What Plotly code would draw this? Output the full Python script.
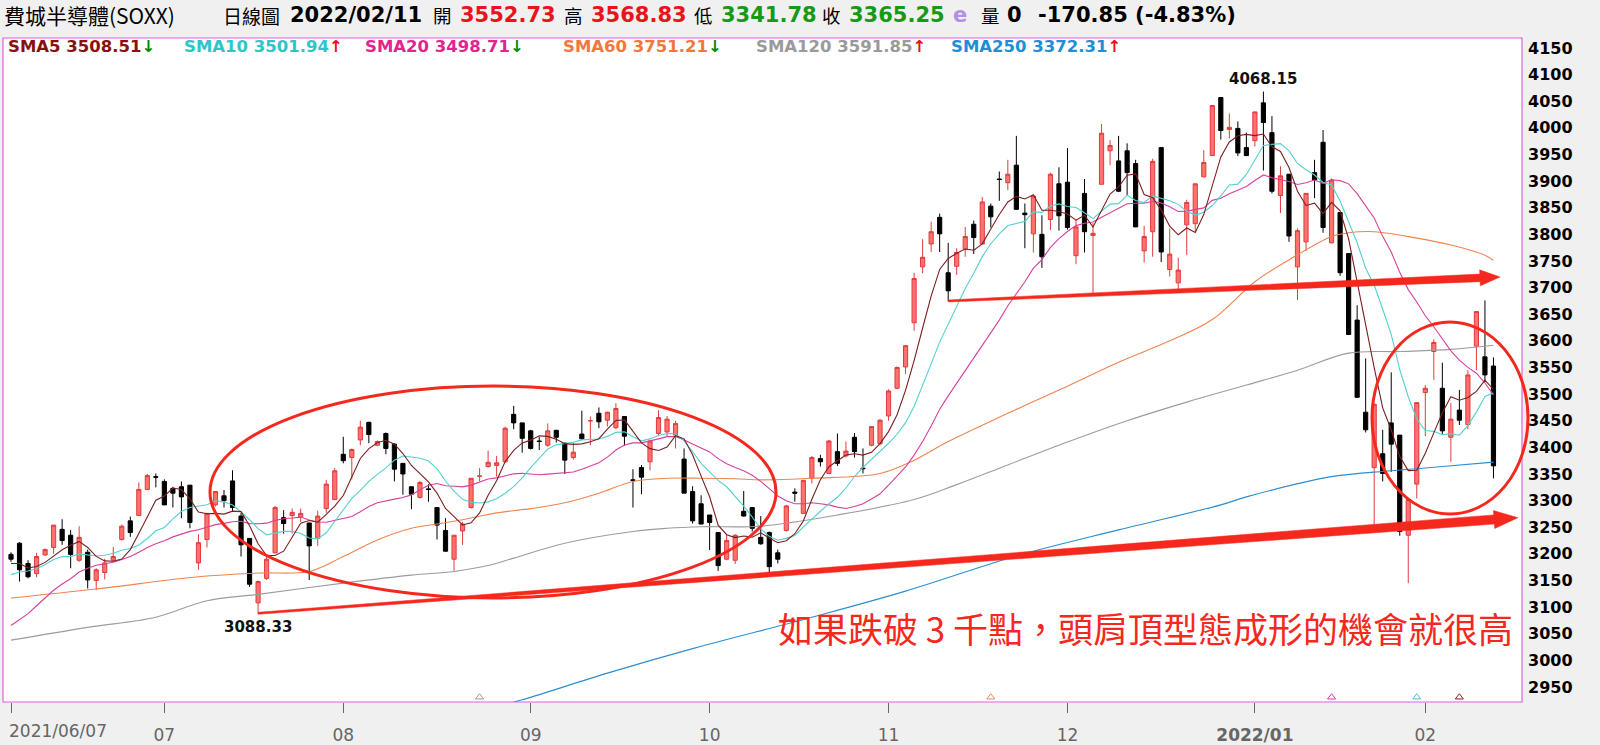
import numpy as np
import pandas as pd
import plotly.graph_objects as go

# ---------------- data ----------------
holidays = ["2021-07-05", "2021-09-06", "2021-11-25", "2021-12-24", "2022-01-17"]
dates = [d for d in pd.bdate_range("2021-06-07", "2022-02-11") if d.strftime("%Y-%m-%d") not in holidays]

opens = [3199, 3220, 3182, 3163, 3198, 3212, 3246, 3235, 3188, 3203, 3150, 3165, 3188, 3227, 3262, 3272, 3321, 3345, 3336, 3323,
         3326, 3329, 3183, 3227, 3292, 3309, 3337, 3271, 3229, 3108, 3154, 3202, 3268, 3272, 3269, 3258, 3229, 3285, 3302, 3387,
         3381, 3414, 3447, 3404, 3426, 3406, 3370, 3326, 3306, 3322, 3287, 3244, 3190, 3243, 3287, 3346, 3364, 3366, 3373, 3462,
         3446, 3431, 3412, 3404, 3432, 3408, 3381, 3425, 3450, 3464, 3451, 3437, 3458, 3339, 3362, 3373, 3426, 3429, 3423, 3378,
         3317, 3294, 3273, 3240, 3190, 3188, 3280, 3287, 3231, 3240, 3202, 3244, 3316, 3276, 3342, 3379, 3351, 3392, 3384, 3419,
         3361, 3404, 3407, 3459, 3511, 3551, 3634, 3739, 3782, 3832, 3728, 3740, 3772, 3819, 3782, 3853, 3904, 3897, 3930, 3840,
         3801, 3800, 3828, 3895, 3898, 3760, 3877, 3798, 3894, 3957, 3938, 3957, 3933, 3769, 3805, 3963, 3734, 3709, 3818, 3820,
         3908, 3948, 4057, 3997, 3999, 3963, 3976, 4047, 3991, 3873, 3913, 3739, 3786, 3916, 3973, 3784, 3841, 3764, 3639, 3466,
         3362, 3388, 3446, 3423, 3235, 3331, 3503, 3580, 3511, 3419, 3470, 3443, 3590, 3570, 3552.73]
highs = [3203, 3222, 3188, 3202, 3210, 3254, 3265, 3245, 3252, 3208, 3173, 3191, 3213, 3255, 3270, 3334, 3350, 3351, 3340, 3326,
         3336, 3329, 3237, 3277, 3317, 3320, 3357, 3277, 3229, 3150, 3195, 3290, 3282, 3285, 3285, 3258, 3281, 3339, 3361, 3420,
         3398, 3450, 3448, 3413, 3428, 3408, 3370, 3326, 3337, 3331, 3287, 3267, 3235, 3260, 3342, 3361, 3394, 3384, 3439, 3478,
         3446, 3433, 3420, 3445, 3433, 3408, 3409, 3469, 3458, 3475, 3467, 3483, 3458, 3359, 3367, 3412, 3470, 3459, 3450, 3398,
         3327, 3310, 3273, 3240, 3237, 3237, 3318, 3287, 3271, 3242, 3208, 3292, 3323, 3338, 3384, 3386, 3414, 3426, 3411, 3427,
         3398, 3440, 3453, 3509, 3552, 3592, 3728, 3791, 3824, 3839, 3784, 3774, 3814, 3826, 3870, 3858, 3918, 3940, 3985, 3858,
         3874, 3836, 3916, 3926, 3962, 3828, 3904, 3821, 4007, 3977, 3985, 3971, 3940, 3816, 3942, 3963, 3811, 3756, 3865, 3895,
         3958, 4042, 4057, 4027, 4012, 3991, 4030, 4068.15, 4022, 3928, 3913, 3811, 3877, 3940, 3996, 3905, 3841, 3764, 3667, 3567,
         3481, 3433, 3541, 3423, 3302, 3484, 3517, 3603, 3559, 3483, 3508, 3545, 3655, 3676, 3568.83]
lows = [3185, 3148, 3154, 3156, 3196, 3200, 3217, 3173, 3185, 3135, 3132, 3152, 3185, 3225, 3232, 3272, 3320, 3325, 3292, 3287,
        3267, 3248, 3170, 3212, 3289, 3287, 3279, 3195, 3138, 3088.33, 3151, 3201, 3238, 3238, 3260, 3151, 3215, 3277, 3301, 3370,
        3340, 3404, 3408, 3402, 3387, 3336, 3311, 3284, 3304, 3298, 3227, 3204, 3168, 3217, 3285, 3336, 3362, 3345, 3371, 3434,
        3390, 3396, 3395, 3401, 3409, 3350, 3377, 3414, 3404, 3436, 3439, 3434, 3403, 3287, 3312, 3357, 3421, 3421, 3398, 3314,
        3257, 3256, 3207, 3168, 3188, 3181, 3270, 3242, 3217, 3160, 3182, 3242, 3298, 3275, 3332, 3364, 3350, 3365, 3381, 3381,
        3351, 3402, 3404, 3450, 3509, 3538, 3619, 3727, 3767, 3767, 3675, 3724, 3758, 3763, 3782, 3813, 3863, 3883, 3846, 3774,
        3766, 3737, 3808, 3807, 3809, 3744, 3766, 3690, 3894, 3930, 3880, 3874, 3814, 3747, 3758, 3748, 3721, 3690, 3761, 3805,
        3907, 3947, 3978, 3980, 3947, 3947, 3965, 3920, 3877, 3840, 3786, 3677, 3769, 3868, 3803, 3784, 3722, 3612, 3494, 3428,
        3254, 3336, 3354, 3234, 3145, 3304, 3421, 3527, 3425, 3373, 3442, 3434, 3545, 3523, 3341.78]
closes = [3190, 3170, 3157, 3195, 3208, 3254, 3225, 3199, 3231, 3151, 3170, 3183, 3195, 3252, 3240, 3321, 3347, 3344, 3292, 3314,
          3307, 3259, 3221, 3276, 3317, 3300, 3287, 3217, 3143, 3148, 3190, 3287, 3257, 3278, 3276, 3215, 3271, 3331, 3356, 3375,
          3396, 3438, 3424, 3411, 3398, 3359, 3350, 3312, 3334, 3321, 3254, 3205, 3235, 3256, 3342, 3346, 3372, 3371, 3436, 3446,
          3417, 3398, 3411, 3431, 3419, 3376, 3391, 3416, 3450, 3448, 3466, 3473, 3421, 3338, 3344, 3412, 3456, 3453, 3445, 3314,
          3262, 3256, 3259, 3178, 3225, 3235, 3271, 3248, 3219, 3176, 3190, 3290, 3314, 3338, 3381, 3373, 3412, 3370, 3393, 3392,
          3360, 3439, 3451, 3506, 3550, 3591, 3717, 3757, 3805, 3801, 3694, 3766, 3796, 3794, 3861, 3833, 3903, 3913, 3847, 3837,
          3872, 3758, 3913, 3835, 3813, 3814, 3805, 3802, 3990, 3967, 3881, 3916, 3814, 3796, 3937, 3767, 3763, 3733, 3860, 3895,
          3935, 4042, 3995, 4001, 3953, 3948, 4030, 4010, 3881, 3910, 3797, 3807, 3877, 3902, 3813, 3902, 3728, 3612, 3494, 3433,
          3481, 3351, 3406, 3242, 3302, 3484, 3511, 3597, 3431, 3453, 3451, 3536, 3655, 3536.10, 3365.25]
# closes before 2021/06/07 (estimated, only feed the short moving averages)
pre_closes = [2930, 2950, 2900, 2920, 2960, 2990, 3000, 2980, 3010, 3060, 3120, 3140, 3150, 3130, 3160, 3170, 3200, 3180, 3170]

# long moving averages (trading-day index: value)
sma60_idx = [0, 10, 22, 29, 35, 39, 43, 47, 50, 53, 57, 61, 65, 69, 73, 77, 81, 85, 88, 94, 102, 106, 110, 117, 124, 130, 136,
             141, 146, 150, 155, 157, 160, 165, 169, 173, 174]
sma60_val = [3117, 3134, 3157, 3164, 3167, 3195, 3226, 3248, 3256, 3264, 3277, 3285, 3296, 3314, 3336, 3342, 3342, 3341, 3339,
             3342, 3351, 3376, 3411, 3464, 3515, 3560, 3600, 3640, 3711, 3752, 3796, 3803, 3805, 3793, 3780, 3761, 3751.21]
sma120_idx = [0, 9, 17, 23, 29, 39, 47, 52, 56, 59, 65, 73, 77, 81, 88, 97, 106, 111, 117, 124, 131, 138, 145, 151, 157, 163,
              169, 174]
sma120_val = [3038, 3062, 3081, 3112, 3124, 3145, 3160, 3167, 3178, 3192, 3220, 3242, 3248, 3251, 3252, 3273, 3302, 3330, 3367,
              3410, 3450, 3485, 3517, 3545, 3577, 3580, 3584, 3591.85]
sma250_idx = [55, 60, 70, 80, 94, 105, 118, 130, 142, 145, 155, 162, 168, 174]
sma250_val = [2905, 2926, 2976, 3022, 3081, 3130, 3196, 3245, 3292, 3307, 3345, 3356, 3364, 3372.31]

# legend as printed on the chart
legend_names = ["SMA5", "SMA10", "SMA20", "SMA60", "SMA120", "SMA250"]
legend_values = [3508.51, 3501.94, 3498.71, 3751.21, 3591.85, 3372.31]
legend_up = [False, True, False, False, True, True]

# small signal marks along the bottom edge
signal_idx = [55, 115, 155, 165, 170]
signal_col = ["#9a9a9a", "#f08a5a", "#d63fa0", "#40c8d0", "#8b2020"]

# ---------------- geometry ----------------
W, H = 1600, 745
PL, PR, PT, PB = 3, 1522, 38, 702
XR = [-0.94, 177.35]
YR = [2921.8, 4168.8]


def px(x):
    return (x - PL) / (PR - PL)


def py(y):
    return (PB - y) / (PB - PT)


def xpix(i):
    return PL + (i - XR[0]) / (XR[1] - XR[0]) * (PR - PL)


def ypix(p):
    return PB - (p - YR[0]) / (YR[1] - YR[0]) * (PB - PT)


n = len(closes)
idx = list(range(n))

s_all = pd.Series(pre_closes + closes, dtype=float)
k = len(pre_closes)
sma5 = s_all.rolling(5).mean().iloc[k:].tolist()
sma10 = s_all.rolling(10).mean().iloc[k:].tolist()
sma20 = s_all.rolling(20).mean().iloc[k:].tolist()

fig = go.Figure()
fig.add_trace(go.Candlestick(
    x=idx, open=opens, high=highs, low=lows, close=closes,
    increasing=dict(line=dict(color="#e23b3b", width=1), fillcolor="#ff7070"),
    decreasing=dict(line=dict(color="#000000", width=1), fillcolor="#000000"),
    whiskerwidth=0, showlegend=False, hoverinfo="skip"))

line_specs = [
    (sma250_idx, sma250_val, "#2a8fd0", "spline"),
    (sma120_idx, sma120_val, "#9c9c9c", "spline"),
    (sma60_idx, sma60_val, "#ef8450", "spline"),
    (idx, sma20, "#d8409e", "linear"),
    (idx, sma10, "#55d0d0", "linear"),
    (idx, sma5, "#7a1f1f", "linear"),
]
for xs, ys, col, shp in line_specs:
    fig.add_trace(go.Scatter(x=xs, y=ys, mode="lines", line=dict(color=col, width=1.1, shape=shp),
                             showlegend=False, hoverinfo="skip"))

fig.add_trace(go.Scatter(x=signal_idx, y=[YR[0] + 9] * len(signal_idx), mode="markers",
                         marker=dict(symbol="triangle-up-open", size=7, color=signal_col, line=dict(width=1, color=signal_col)),
                         showlegend=False, hoverinfo="skip", cliponaxis=False))

# ticks at first trading day of each month
tick_idx, tick_txt = [], []
prev = None
for i, d in enumerate(dates):
    if d.month != prev:
        tick_idx.append(i)
        if i == 0:
            tick_txt.append("")
        elif d.month == 1:
            tick_txt.append("<b>%d/%02d</b>" % (d.year, d.month))
        else:
            tick_txt.append("%02d" % d.month)
        prev = d.month

yticks = list(range(2950, 4151, 50))

fig.update_layout(
    width=W, height=H,
    margin=dict(l=PL, r=W - PR, t=PT, b=H - PB, autoexpand=False),
    paper_bgcolor="#f0f0f0", plot_bgcolor="#ffffff",
    showlegend=False,
    xaxis=dict(range=XR, tickvals=tick_idx, ticktext=tick_txt, showgrid=False, zeroline=False,
               ticks="outside", ticklen=10, tickcolor="#666666", tickwidth=1,
               tickfont=dict(family="DejaVu Sans", size=17, color="#666666"),
               rangeslider=dict(visible=False), showline=False, ticklabelstandoff=8),
    yaxis=dict(range=YR, side="right", tickvals=yticks, ticktext=[str(v) for v in yticks],
               showgrid=False, zeroline=False, ticks="", showline=False,
               tickfont=dict(family="DejaVu Sans", size=16, color="#000000", weight="bold"),
               ticklabelstandoff=5),
)

shapes = []
# plot border
shapes.append(dict(type="rect", xref="paper", yref="paper", x0=0, x1=1, y0=0, y1=1,
                   line=dict(color="#e060e0", width=1.2), layer="above"))
RED = "#f5281e"
# ellipses
shapes.append(dict(type="circle", xref="paper", yref="paper", x0=px(210), x1=px(776), y0=py(598), y1=py(386),
                   line=dict(color=RED, width=3), layer="above"))
shapes.append(dict(type="circle", xref="paper", yref="paper", x0=px(1372), x1=px(1528), y0=py(514), y1=py(322),
                   line=dict(color=RED, width=3), layer="above"))


def arrow_path(x0, y0, x1, y1, w0, w1, head_len, head_w):
    dx, dy = x1 - x0, y1 - y0
    L = (dx * dx + dy * dy) ** 0.5
    ux, uy = dx / L, dy / L
    nx, ny = -uy, ux
    sx, sy = x1 - ux * head_len, y1 - uy * head_len
    pts = [(x0 + nx * w0, y0 + ny * w0), (sx + nx * w1, sy + ny * w1), (sx + nx * head_w, sy + ny * head_w),
           (x1, y1), (sx - nx * head_w, sy - ny * head_w), (sx - nx * w1, sy - ny * w1), (x0 - nx * w0, y0 - ny * w0)]
    return "M " + " L ".join("%.5f,%.5f" % (px(a), py(b)) for a, b in pts) + " Z"


# neckline arrow (from the low of the candle at index 110)
shapes.append(dict(type="path", xref="paper", yref="paper", layer="above",
                   path=arrow_path(xpix(110), ypix(lows[110]), 1500, ypix(3720), 1.0, 3.8, 20, 8),
                   fillcolor=RED, line=dict(color=RED, width=0.5)))
# lower support arrow (from the 3088.33 low)
shapes.append(dict(type="path", xref="paper", yref="paper", layer="above",
                   path=arrow_path(xpix(29), ypix(lows[29]), 1518, ypix(3268), 1.0, 4.6, 24, 9),
                   fillcolor=RED, line=dict(color=RED, width=0.5)))
fig.update_layout(shapes=shapes)

ann = []


def txt(x, y, text, size, color="#000000", family="DejaVu Sans", bold=False, xanchor="left"):
    ann.append(dict(xref="paper", yref="paper", x=px(x), y=py(y), text=text, showarrow=False,
                    xanchor=xanchor, yanchor="middle", borderpad=0,
                    font=dict(family=family, size=size, color=color, weight="bold" if bold else "normal")))


# header
CJK = "Noto Sans CJK TC"
HY = 15
NS = 21
txt(3, HY, "費城半導體(SOXX)", 21, family=CJK)
txt(222, HY, "日線圖", 19, family=CJK)
txt(289, HY, dates[-1].strftime("%Y/%m/%d"), NS, bold=True)
txt(432, HY, "開", 18.5, family=CJK)
txt(459, HY, "%.2f" % opens[-1], NS, color="#e8141a", bold=True)
txt(563, HY, "高", 18.5, family=CJK)
txt(590, HY, "%.2f" % highs[-1], NS, color="#e8141a", bold=True)
txt(693, HY, "低", 18.5, family=CJK)
txt(720, HY, "%.2f" % lows[-1], NS, color="#169a16", bold=True)
txt(821, HY, "收", 18.5, family=CJK)
txt(848, HY, "%.2f" % closes[-1], NS, color="#169a16", bold=True)
txt(952, HY, "e", NS, color="#b48ee6", bold=True)
txt(980, HY, "量", 18.5, family=CJK)
txt(1006, HY, "0", NS, bold=True)
chg = closes[-1] - closes[-2]
txt(1037, HY, "%.2f (%.2f%%)" % (chg, chg / closes[-2] * 100), NS, bold=True)

# moving-average legend
LY = 47
UP = "<span style='color:#ee1111'>↑</span>"
DN = "<span style='color:#0a8a0a'>↓</span>"
leg_x = [7, 183, 364, 562, 755, 950]
leg_col = ["#8b0f0f", "#2fc4c8", "#e0258e", "#f0783c", "#9a9a9a", "#1e8fd5"]
for x0, name, val, up, col in zip(leg_x, legend_names, legend_values, legend_up, leg_col):
    txt(x0, LY, "%s %.2f%s" % (name, val, UP if up else DN), 16.5, color=col, bold=True)

# price labels
ann.append(dict(xref="x", yref="y", x=147, y=highs[147], text="%.2f" % highs[147], showarrow=False,
                yanchor="bottom", yshift=2, font=dict(family="DejaVu Sans", size=15, color="#111111", weight="bold")))
ann.append(dict(xref="x", yref="y", x=29, y=lows[29], text="%.2f" % lows[29], showarrow=False,
                yanchor="top", yshift=-3, font=dict(family="DejaVu Sans", size=15, color="#111111", weight="bold")))

# first date label (left aligned at first tick)
ann.append(dict(xref="x", yref="paper", x=0, y=py(731), text=dates[0].strftime("%Y/%m/%d"), showarrow=False,
                xanchor="left", yanchor="middle", xshift=-4,
                font=dict(family="DejaVu Sans", size=17, color="#666666")))

# commentary
txt(1514, 627, "如果跌破 3 千點，頭肩頂型態成形的機會就很高", 35, color=RED, family=CJK, xanchor="right")

fig.update_layout(annotations=ann)
fig.write_html("out.html", config={"displayModeBar": False},
               post_script="document.body.style.margin='0px';document.body.style.overflow='hidden';")
